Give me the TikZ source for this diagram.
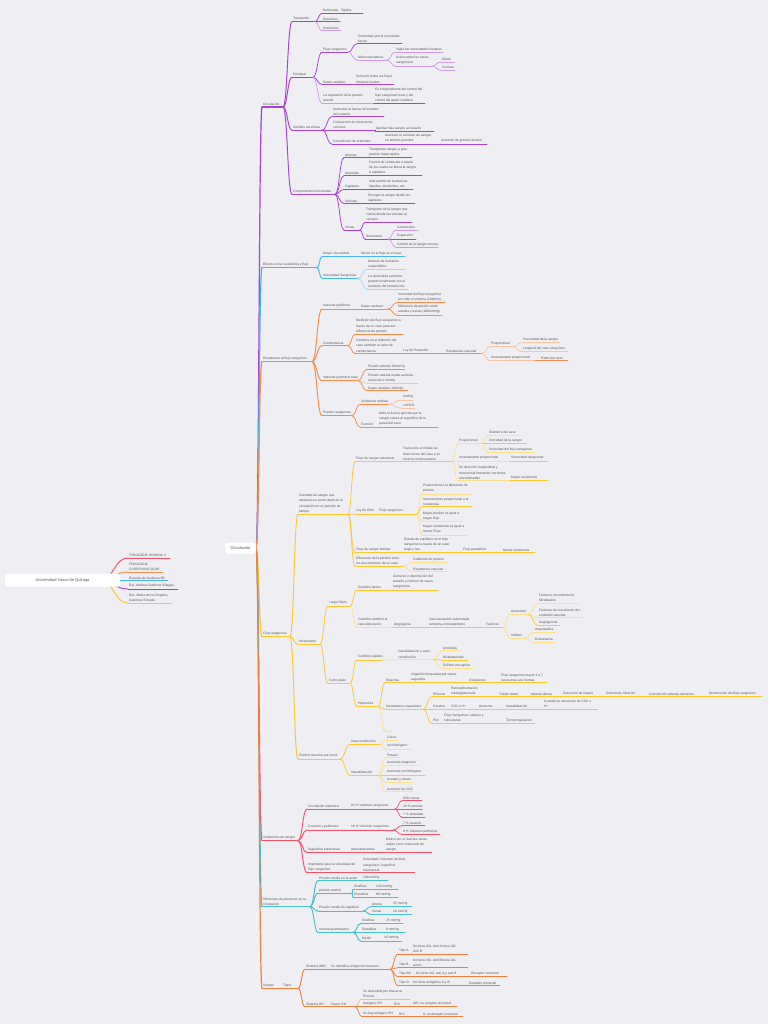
\documentclass[tikz,border=0pt]{standalone}
\usepackage{fontspec}
\setmainfont{Liberation Sans}
\usetikzlibrary{calc}
\definecolor{bg}{HTML}{EEEEF3}
\definecolor{tgrey}{HTML}{555555}
\definecolor{pur}{HTML}{A640D6}
\definecolor{purL}{HTML}{CF9AEA}
\definecolor{blu}{HTML}{45B5F2}
\definecolor{bluL}{HTML}{9ED6F7}
\definecolor{ora}{HTML}{F88A4A}
\definecolor{oraL}{HTML}{FBC29F}
\definecolor{yel}{HTML}{FFC72C}
\definecolor{yelL}{HTML}{FFE08A}
\definecolor{rd}{HTML}{F85068}
\definecolor{rdL}{HTML}{FA9AA8}
\definecolor{tea}{HTML}{45C3CC}
\definecolor{teaL}{HTML}{98DDE2}
\definecolor{san}{HTML}{F07F3C}
\definecolor{sanL}{HTML}{F7B58E}
\newcommand{\mkfam}[3]{\tikzset{#11/.style={draw=#2,line width=1.2pt},#12/.style={draw=#2,line width=0.95pt},#13/.style={draw=#2,line width=0.75pt},#14/.style={draw=#3,line width=0.7pt}}}
\mkfam{pu}{pur}{purL}
\mkfam{bl}{blu}{bluL}
\mkfam{or}{ora}{oraL}
\mkfam{ye}{yel}{yelL}
\mkfam{re}{rd}{rdL}
\mkfam{te}{tea}{teaL}
\mkfam{sa}{san}{sanL}
\tikzset{
  txt/.style={inner sep=0pt, anchor=south west, align=left, text=tgrey, font=\fontsize{3.3}{5.2}\selectfont},
  br/.style={to path={let \p1=(\tikztostart), \p2=(\tikztotarget) in .. controls ({(\x1+\x2)/2},\y1) and ({(\x1+\x2)/2},\y2) .. (\tikztotarget)}},
  box/.style={fill=white, rounded corners=1.5pt, inner sep=0pt, text=tgrey, font=\fontsize{4}{5}\selectfont}
}
% name parent x1 x2 y style text
\newcommand{\mmtopic}[7]{%
  \draw[#6] (#3,#5) coordinate (#1-s) -- (#4,#5) coordinate (#1-e);
  \draw[#6] (#2-e) to[br] (#1-s);
  \node[txt] (#1) at ({#3+1},{#5-1.2}) {#7};
}
\begin{document}
\begin{tikzpicture}[x=1pt,y=-1pt,line cap=round]
\fill[bg] (0,0) rectangle (768,1024);
\useasboundingbox (0,0) rectangle (768,1024);
\coordinate (cen-e) at (256,548);
\coordinate (uv-e) at (100,580);
% ---------- left root
\mmtopic{Lfh}{uv}{128}{170}{558}{re2}{FISIOLOGÍA HUMANA II}
\mmtopic{Lfc}{uv}{128}{163}{572}{or2}{FISIOLOGÍA\\CARDIOVASCULAR}
\mmtopic{Lem}{uv}{128}{168}{580.7}{bl2}{Escuela de medicina 3B}
\mmtopic{Lest}{uv}{128}{178}{589}{pu2}{Est. Andrea Gutiérrez Villagas}
\mmtopic{Ldra}{uv}{128}{172}{603}{ye2}{Dra. María de los Ángeles\\Gutiérrez Estrada}
\node[box, minimum width=115pt, minimum height=13pt] (uv) at (62.5,580) {Universidad Vasco de Quiroga};
% ---------- purple
\mmtopic{circ}{cen}{262}{283}{107}{pu1}{Circulación}
\mmtopic{trans}{circ}{292}{315}{21.7}{pu2}{Transporte}
\mmtopic{nutr}{trans}{322}{340}{13.3}{pu3}{Nutrientes}
\mmtopic{tej}{nutr}{340}{363}{13.3}{pu3}{Tejidos}
\mmtopic{des}{trans}{322}{340}{21.7}{pu3}{Desechos}
\mmtopic{hor}{trans}{322}{341}{30.7}{pu4}{Hormonas}
\mmtopic{princ}{circ}{292}{313}{77.3}{pu2}{Principal}
\mmtopic{flujo}{princ}{322}{348}{52.3}{pu3}{Flujo sanguíneo}
\mmtopic{ctrl}{flujo}{357}{402}{43.7}{pu3}{Controlado por la necesidad\\tisular}
\mmtopic{micro}{flujo}{357}{387}{60}{pu4}{Microvasculatura}
\mmtopic{vig}{micro}{395}{443}{52.3}{pu4}{Vigila las necesidades tisulares}
\mmtopic{act}{micro}{395}{432}{66}{pu4}{Actúa sobre los vasos\\sanguíneos}
\mmtopic{dil}{act}{441}{455}{62}{pu4}{Dilata}
\mmtopic{con}{act}{441}{455}{70.3}{pu4}{Contrae}
\mmtopic{gasto}{princ}{322}{355}{84.5}{pu3}{Gasto cardíaco}
\mmtopic{suma}{gasto}{355}{394}{84.5}{pu3}{Suma de todos los flujos\\tisulares locales}
\mmtopic{reg}{princ}{322}{374}{103.3}{pu4}{La regulación de la presión\\arterial}
\mmtopic{indep}{reg}{374}{425}{103.3}{pu3}{Es independiente del control del\\flujo sanguíneo local y del\\control del gasto cardíaco}
\mmtopic{sen}{circ}{292}{322}{130}{pu2}{Señales nerviosas}
\mmtopic{aum}{sen}{332}{384}{116.7}{pu3}{Aumentar la fuerza de bombeo\\del corazón}
\mmtopic{contr}{sen}{332}{375}{130}{pu3}{Contracción de reservorios\\venosos}
\mmtopic{apor}{contr}{375}{434}{131.7}{pu3}{Aportar más sangre al corazón}
\mmtopic{constr}{sen}{332}{384}{144}{pu3}{Constricción de arteriolas}
\mmtopic{aumr}{constr}{384}{440}{144}{pu3}{Aumento el volumen de sangre\\en arterias grandes}
\mmtopic{aumpa}{aumr}{440}{487}{144}{pu3}{Aumento de presión arterial}
\mmtopic{comp}{circ}{292}{335}{194.3}{pu2}{Componentes funcionales}
\mmtopic{art}{comp}{344}{362}{157.7}{pu3}{Arterias}
\mmtopic{artA}{art}{368}{412}{157.7}{pu3}{Transportar sangre a gran\\presión hasta tejidos}
\mmtopic{artl}{comp}{344}{365}{175.8}{pu3}{Arteriolas}
\mmtopic{artlA}{artl}{368}{422}{175.8}{pu3}{Control de conductos a través\\de los cuales se libera la sangre\\a capilares}
\mmtopic{cap}{comp}{344}{362}{189.5}{pu3}{Capilares}
\mmtopic{capA}{cap}{368}{413}{189.5}{pu3}{Intercambio de sustancias\\líquidos, electrolitos, etc}
\mmtopic{ven}{comp}{344}{360}{203.5}{pu3}{Vénulas}
\mmtopic{venA}{ven}{367}{415}{203.5}{pu3}{Recoger la sangre desde los\\capilares}
\mmtopic{venas}{comp}{344}{360}{230}{pu3}{Venas}
\mmtopic{venasA}{venas}{365}{412}{222.3}{pu3}{Transporte de la sangre que\\vuelve desde las vénulas al\\corazón}
\mmtopic{resv}{venas}{365}{388}{239}{pu3}{Reservorio}
\mmtopic{contra}{resv}{396}{418}{230}{pu4}{Contracción}
\mmtopic{expa}{resv}{396}{416}{239}{pu3}{Expansión}
\mmtopic{ctrlsv}{resv}{396}{438}{247.3}{pu4}{Control de la sangre venosa}
% ---------- blue
\mmtopic{efe}{cen}{262}{317}{267.7}{bl1}{Efectos en la resistencia y flujo}
\mmtopic{mayv}{efe}{322}{352}{256.7}{bl2}{Mayor viscosidad}
\mmtopic{menor}{mayv}{360}{405}{256.7}{bl3}{Menor es el flujo en el vaso}
\mmtopic{viscs}{efe}{322}{358}{278.3}{bl2}{Viscosidad Sanguínea}
\mmtopic{num}{viscs}{367}{405}{269.3}{bl4}{Número de hematíes\\suspendidos}
\mmtopic{lavis}{viscs}{367}{408}{289}{bl4}{La viscosidad aumenta\\proporcionalmente con el\\aumento del hematocrito}
% ---------- orange
\mmtopic{res}{cen}{262}{312}{361.7}{or1}{Resistencia al flujo sanguíneo}
\mmtopic{vper}{res}{322}{352}{309}{or2}{Vascular periférico}
\mmtopic{gc}{vper}{360}{388}{309}{or3}{Gasto cardíaco}
\mmtopic{vel}{gc}{397}{445}{302.7}{or3}{Velocidad del flujo sanguíneo\\por todo el sistema (100ml/s)}
\mmtopic{dif}{gc}{397}{442}{315}{or3}{Diferencia de presión entre\\arterias y venas (100mmHg)}
\mmtopic{cond}{res}{322}{348}{345.7}{or2}{Conductancia}
\mmtopic{medi}{cond}{355}{403}{334.3}{or3}{Medición del flujo sanguíneo a\\través de un vaso para dar\\diferencia de presión}
\mmtopic{cam}{cond}{355}{400}{353.5}{or3}{Cambios en el diámetro del\\vaso cambian el valor de\\conductancia}
\mmtopic{pois}{cam}{402}{440}{353.5}{or3}{Ley de Poiseuille}
\mmtopic{resvo}{pois}{445}{482}{353.5}{or3}{Resistencia vascular}
\mmtopic{prop}{resvo}{490}{513}{346.7}{or4}{Proporcional}
\mmtopic{viss}{prop}{522}{560}{342.7}{or4}{Viscosidad de la sangre}
\mmtopic{long}{prop}{522}{568}{351.7}{or4}{Longitud del vaso sanguíneo}
\mmtopic{inv}{resvo}{490}{535}{360.7}{or4}{Inversamente proporcional}
\mmtopic{radio}{inv}{540}{568}{360.7}{or3}{Radio del vaso}
\mmtopic{vpul}{res}{322}{358}{380.7}{or2}{Vascular pulmonar total}
\mmtopic{pa16}{vpul}{367}{405}{369.3}{or3}{Presión arterial 16mmHg}
\mmtopic{pam}{vpul}{367}{418}{383.3}{or4}{Presión arterial media aurícula\\izquierda 2 mmHg}
\mmtopic{gcc}{vpul}{367}{408}{390.7}{or3}{Gasto cardíaco 100ml/s}
\mmtopic{psan}{res}{322}{352}{415.7}{or2}{Presión sanguínea}
\mmtopic{unid}{psan}{360}{388}{404.3}{or3}{Unidad de medida}
\mmtopic{mmhg}{unid}{402}{413}{400}{or4}{mmHg}
\mmtopic{cmh}{unid}{402}{415}{408.3}{or4}{cmH2O}
\mmtopic{func}{psan}{360}{378}{427}{or3}{Función}
\mmtopic{mide}{func}{378}{438}{427}{or3}{Mide la fuerza ejercida por la\\sangre contra al superficie de la\\pared del vaso}
% ---------- yellow
\mmtopic{fs}{cen}{262}{290}{636.7}{ye1}{Flujo sanguíneo}
\mmtopic{cant}{fs}{298}{348}{514.3}{ye2}{Cantidad de sangre que\\atraviesa un punto dado de la\\circulación en un periodo de\\tiempo}
\mmtopic{turb}{cant}{355}{402}{461.7}{ye3}{Flujo de sangre turbulento}
\mmtopic{transc}{turb}{402}{452}{461.7}{ye3}{Transcurre en todas las\\direcciones del vaso y se\\mezcla continuamente}
\mmtopic{propb}{transc}{458}{482}{443.3}{ye4}{Proporcional}
\mmtopic{diam}{propb}{488}{520}{435}{ye4}{Diámetro del vaso}
\mmtopic{dens}{propb}{488}{527}{443.3}{ye3}{Densidad de la sangre}
\mmtopic{velf}{propb}{488}{535}{452.7}{ye4}{Velocidad del flujo sanguíneo}
\mmtopic{invb}{transc}{458}{510}{461}{ye4}{Inversamente proporcional}
\mmtopic{viscb}{invb}{510}{548}{461}{ye3}{Viscosidad sanguínea}
\mmtopic{endir}{transc}{458}{510}{480.7}{ye4}{En dirección longitudinal y\\transversal formando corrientes\\arremolinadas}
\mmtopic{mayr}{endir}{510}{548}{480.7}{ye3}{Mayor resistencia}
\mmtopic{ohm}{cant}{355}{378}{514}{ye3}{Ley de Ohm}
\mmtopic{fsb}{ohm}{378}{417}{514}{ye3}{Flujo sanguíneo}
\mmtopic{pA}{fsb}{422}{472}{494}{ye4}{Proporcional a la diferencia de\\presión}
\mmtopic{pB}{fsb}{422}{472}{506.7}{ye3}{Inversamente proporcional a la\\resistencia}
\mmtopic{pC}{fsb}{422}{462}{521.7}{ye4}{Mayor presión es igual a\\mayor flujo}
\mmtopic{pD}{fsb}{422}{468}{535}{ye4}{Mayor resistencia es igual a\\menor Flujo}
\mmtopic{lam}{cant}{355}{403}{552.7}{ye3}{Flujo de sangre laminar}
\mmtopic{esteq}{lam}{403}{458}{552.7}{ye3}{Estado de equilibrio en el flujo\\sanguíneo a través de un vaso\\largo y liso}
\mmtopic{parab}{esteq}{462}{502}{552.7}{ye3}{Flujo parabólico}
\mmtopic{menr}{parab}{502}{535}{552.7}{ye3}{Menor resistencia}
\mmtopic{difp}{cant}{355}{403}{566}{ye3}{Diferencia de la presión entre\\los dos extremos de un vaso}
\mmtopic{grad}{difp}{412}{448}{562.7}{ye4}{Gradiente de presión}
\mmtopic{resvb}{difp}{412}{447}{571.7}{ye4}{Resistencia vascular}
\mmtopic{mec}{fs}{298}{320}{644.3}{ye2}{Mecanismo}
\mmtopic{lp}{mec}{328}{350}{606}{ye3}{Largo Plazo}
\mmtopic{cl}{lp}{357}{392}{590}{ye3}{Cambios lentos}
\mmtopic{aumd}{cl}{392}{438}{590}{ye3}{Aumento o disminución del\\tamaño y número de vasos\\sanguíneos}
\mmtopic{ctv}{lp}{357}{393}{627.3}{ye4}{Cambios también la\\vascularización}
\mmtopic{ang}{ctv}{393}{428}{627.3}{ye3}{Angiogenia}
\mmtopic{vasa}{ang}{428}{485}{627.3}{ye3}{Vascularización aumentada\\aumenta el metabolismo}
\mmtopic{fac}{vasa}{485}{503}{627.3}{ye3}{Factores}
\mmtopic{aumt}{fac}{510}{528}{614.3}{ye4}{Aumentan}
\mmtopic{fcf}{aumt}{538}{578}{603}{ye4}{Factores crecimiento de\\fibroblastos}
\mmtopic{fce}{aumt}{538}{583}{617.7}{ye4}{Factores de crecimiento del\\endotelio vascular}
\mmtopic{angn}{aumt}{538}{560}{625.7}{ye3}{Angiogenina}
\mmtopic{inh}{fac}{510}{525}{638.3}{ye4}{Inhiben}
\mmtopic{angs}{inh}{534}{555}{632.7}{ye4}{Angiostatina}
\mmtopic{endo}{inh}{534}{555}{642.3}{ye4}{Endostatina}
\mmtopic{cp}{mec}{328}{350}{683.3}{ye3}{Corto plazo}
\mmtopic{cr}{cp}{357}{382}{660}{ye3}{Cambios rápidos}
\mmtopic{vyv}{cr}{397}{433}{659.5}{ye4}{Vasodilatación y vaso\\constricción}
\mmtopic{artlb}{vyv}{442}{460}{650.7}{ye4}{Arteriolas}
\mmtopic{meta}{vyv}{442}{468}{660}{ye3}{Metaarteriolas}
\mmtopic{esf}{vyv}{442}{473}{668.3}{ye4}{Esfínter precapilar}
\mmtopic{hip}{cp}{357}{378}{706.7}{ye3}{Hiperemia}
\mmtopic{reac}{hip}{385}{410}{682.7}{ye3}{Reactiva}
\mmtopic{irr}{reac}{410}{468}{682.7}{ye3}{Irrigación bloqueada por varios\\segundos}
\mmtopic{bloq}{irr}{468}{500}{682.7}{ye3}{Oclusiones}
\mmtopic{fsm}{bloq}{500}{547}{682.7}{ye3}{Flujo sanguíneo mayor 4 a 7\\veces mas a lo normal}
\mmtopic{mecs}{hip}{385}{423}{709.3}{ye3}{Mecanismos especiales}
\mmtopic{rin}{mecs}{432}{450}{696.5}{ye3}{Riñones}
\mmtopic{retro}{rin}{450}{498}{696.5}{ye3}{Retroalimentación\\tubuloglomerular}
\mmtopic{tub}{retro}{498}{530}{696.5}{ye3}{Túbulo distal}
\mmtopic{mac}{tub}{530}{562}{696.5}{ye3}{Mácula densa}
\mmtopic{det}{mac}{562}{605}{696.5}{ye3}{Detección de líquido}
\mmtopic{glo}{det}{605}{648}{696.5}{ye3}{Glomérulo, filtración}
\mmtopic{cons}{glo}{648}{708}{696.5}{ye3}{Constricción arterias aferentes}
\mmtopic{dism}{cons}{708}{762}{696.5}{ye3}{Disminución del flujo sanguíneo}
\mmtopic{cer}{mecs}{432}{450}{709.3}{ye3}{Cerebro}
\mmtopic{cotwo}{cer}{450}{478}{709.3}{ye3}{CO2 o H+}
\mmtopic{aumc}{cotwo}{478}{505}{709.3}{ye3}{Aumenta}
\mmtopic{vasd}{aumc}{505}{543}{709.3}{ye3}{Vasodilatación}
\mmtopic{cuan}{vasd}{543}{598}{709.3}{ye3}{Cuando se elevan las de CO2 o\\H+}
\mmtopic{piel}{mecs}{432}{443}{723.3}{ye3}{Piel}
\mmtopic{fsc}{piel}{443}{505}{723.3}{ye3}{Flujo Sanguíneo cutáneo y\\subcutáneo}
\mmtopic{term}{fsc}{505}{535}{723.3}{ye3}{Termorregulación}
\mmtopic{empt}{hip}{385}{393}{731}{ye4}{}
\mmtopic{cvi}{fs}{298}{340}{759}{ye2}{Control vascular por iones}
\mmtopic{vcon}{cvi}{350}{380}{744.3}{ye3}{Vasoconstricción}
\mmtopic{calc}{vcon}{386}{398}{740}{ye4}{Calcio}
\mmtopic{ionh}{vcon}{386}{412}{749}{ye4}{Ion hidrógeno}
\mmtopic{vdil}{cvi}{350}{378}{775}{ye3}{Vasodilatación}
\mmtopic{pot}{vdil}{386}{400}{757.7}{ye4}{Potasio}
\mmtopic{aumm}{vdil}{386}{418}{765.7}{ye4}{Aumenta magnesio}
\mmtopic{aumi}{vdil}{386}{425}{775}{ye3}{Aumenta ion hidrógeno}
\mmtopic{acet}{vdil}{386}{413}{782.3}{ye4}{Acetato y citrato}
\mmtopic{aco}{vdil}{386}{413}{791.7}{ye4}{Aumento de CO2}
% ---------- red
\mmtopic{vol}{cen}{262}{298}{840.7}{re1}{Volúmenes de sangre}
\mmtopic{csis}{vol}{307}{345}{809}{re2}{Circulación sistémica}
\mmtopic{veo}{csis}{350}{395}{809}{re2}{84 \% volumen sanguíneo}
\mmtopic{vsf}{veo}{402}{422}{800.7}{re3}{64\% venas}
\mmtopic{vet}{veo}{402}{422}{809}{re3}{18 \% arterias}
\mmtopic{vse}{veo}{402}{425}{817.3}{re3}{7 \% arteriolas}
\mmtopic{cyp}{vol}{307}{345}{830}{re2}{Corazón y pulmones}
\mmtopic{vsix}{cyp}{350}{393}{830}{re2}{16 \% Volumen sanguíneo}
\mmtopic{vsc}{vsix}{402}{425}{825.7}{re3}{7 \% corazón}
\mmtopic{vnine}{vsix}{402}{440}{834.3}{re3}{9 \% Volumen pulmonar}
\mmtopic{sup}{vol}{307}{345}{852.7}{re2}{Superficie transversal}
\mmtopic{apr}{sup}{350}{385}{852.7}{re2}{Aproximaciones}
\mmtopic{mot}{apr}{385}{432}{852.7}{re2}{Motivo por el cual las venas\\alojan como reservorio de\\sangre}
\mmtopic{imp}{vol}{307}{362}{872.7}{re2}{Importante para la velocidad del\\flujo sanguíneo}
\mmtopic{velo}{imp}{362}{415}{872.7}{re2}{Velocidad= Volumen del flujo\\sanguíneo / superficie\\transversal}
% ---------- teal
\mmtopic{dpc}{cen}{262}{310}{906.7}{te1}{Diferencia de presiones en la\\circulación}
\mmtopic{pma}{dpc}{318}{362}{880.7}{te2}{Presión media en la aorta}
\mmtopic{pcien}{pma}{362}{388}{880.7}{te2}{100 mmHg}
\mmtopic{part}{dpc}{318}{352}{893.3}{te2}{presión arterial}
\mmtopic{sis}{part}{353}{375}{889.3}{te2}{Sistólica}
\mmtopic{sct}{sis}{375}{398}{889.3}{te2}{120 mmHg}
\mmtopic{dia}{part}{353}{375}{897.3}{te2}{Diastólica}
\mmtopic{deo}{dia}{375}{398}{897.3}{te2}{80 mmHg}
\mmtopic{pmc}{dpc}{318}{363}{911}{te2}{Presión media de capilares}
\mmtopic{arte}{pmc}{371}{392}{906.7}{te2}{Arteria}
\mmtopic{atf}{arte}{392}{412}{906.7}{te2}{35 mmHg}
\mmtopic{vena}{pmc}{371}{392}{914.3}{te2}{Venas}
\mmtopic{vdiez}{vena}{392}{412}{914.3}{te2}{10 mmHg}
\mmtopic{apul}{dpc}{318}{353}{932.3}{te2}{Arterias pulmonares}
\mmtopic{sisb}{apul}{361}{385}{923.3}{te2}{Sistólica}
\mmtopic{stf}{sisb}{385}{403}{923.3}{te2}{25 mmHg}
\mmtopic{diab}{apul}{361}{385}{932.3}{te2}{Diastólica}
\mmtopic{deight}{diab}{385}{405}{932.3}{te2}{8 mmHg}
\mmtopic{medb}{apul}{361}{383}{941}{te2}{Media}
\mmtopic{msix}{medb}{383}{402}{941}{te2}{16 mmHg}
% ---------- sangre
\mmtopic{sang}{cen}{262}{282}{988.3}{sa1}{Sangre}
\mmtopic{tip}{sang}{282}{298}{988.3}{sa1}{Tipos}
\mmtopic{abo}{tip}{305}{330}{969.3}{sa2}{Sistema ABO}
\mmtopic{sei}{abo}{330}{390}{969.3}{sa2}{Se identifica antígenos humanos}
\mmtopic{ta}{sei}{398}{412}{954}{sa3}{Tipo A}
\mmtopic{taA}{ta}{412}{468}{954}{sa2}{No tiene AG. Anti A tiene AG.\\Anti B}
\mmtopic{tb}{sei}{398}{412}{967.7}{sa3}{Tipo B}
\mmtopic{tbA}{tb}{412}{468}{967.7}{sa2}{No tiene AG. Anti B tiene AG.\\anti A}
\mmtopic{tab}{sei}{398}{415}{976.7}{sa3}{Tipo AB}
\mmtopic{tabA}{tab}{415}{470}{976.7}{sa3}{No tiene AG. anti A y anti B}
\mmtopic{recu}{tabA}{470}{507}{976.7}{sa2}{Receptor universal}
\mmtopic{tpo}{sei}{398}{412}{985.7}{sa3}{Tipo O}
\mmtopic{tpoA}{tpo}{412}{468}{985.7}{sa2}{No tiene antígenos A y B}
\mmtopic{donu}{tpoA}{468}{500}{985.7}{sa2}{Donador universal}
\mmtopic{rh}{tip}{305}{330}{1006.7}{sa2}{Sistema RH}
\mmtopic{frh}{rh}{330}{355}{1006.7}{sa2}{Factor RH}
\mmtopic{sed}{frh}{362}{410}{999}{sa4}{Se descubrió por Macacus\\Rhesus}
\mmtopic{argh}{frh}{362}{393}{1006.7}{sa3}{Antígeno RH}
\mmtopic{rhp}{argh}{393}{412}{1006.7}{sa3}{RH+}
\mmtopic{abp}{rhp}{412}{457}{1006.7}{sa2}{AB+ es receptor universal}
\mmtopic{nhay}{frh}{362}{398}{1016.7}{sa3}{No hay antígeno RH}
\mmtopic{rhm}{nhay}{398}{422}{1016.7}{sa2}{RH-}
\mmtopic{odon}{rhm}{422}{463}{1016.7}{sa2}{0- es donador universal}
% ---------- central
\node[box, minimum width=31pt, minimum height=11pt] (cen) at (240.5,548) {Circulación};
\end{tikzpicture}
\end{document}
